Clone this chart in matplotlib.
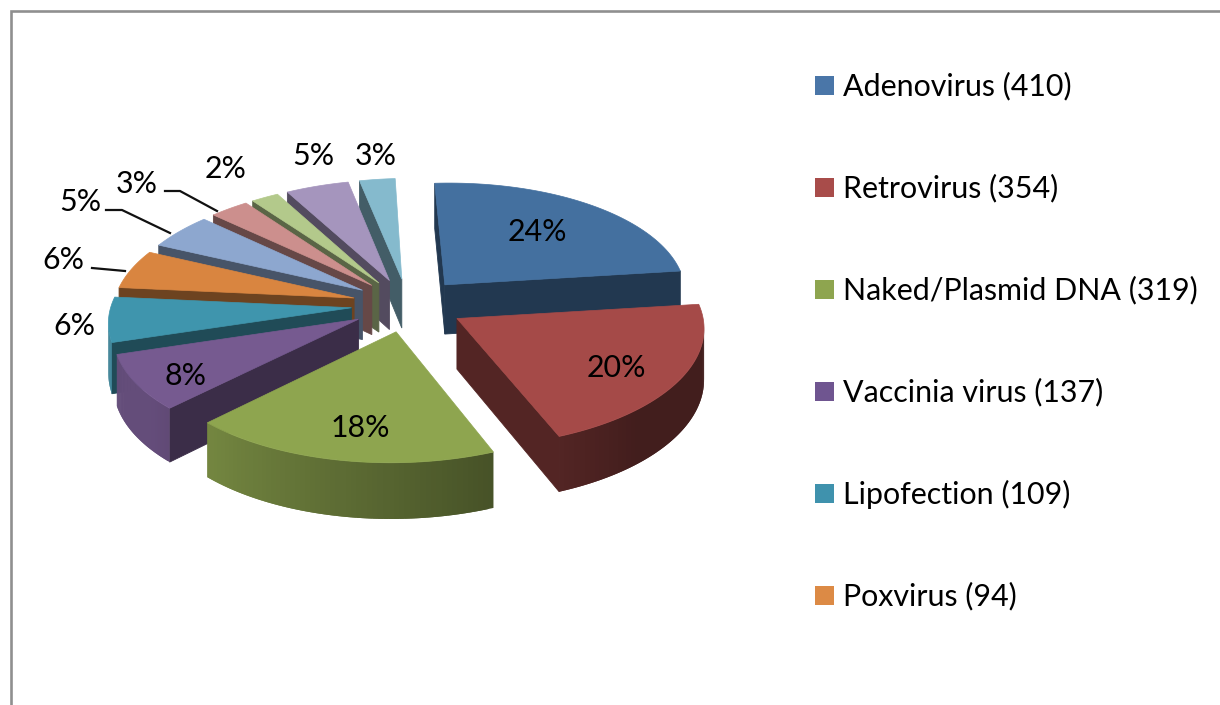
import numpy as np
import matplotlib
matplotlib.use('Agg')
import matplotlib.pyplot as plt
from matplotlib.patches import Polygon, Rectangle

plt.rcParams['font.family'] = ['Lato', 'DejaVu Sans']

# slices, clockwise from twelve o'clock
values = [410, 354, 319, 137, 109, 94, 85, 50, 35, 80, 45]
pct_labels = ['24%', '20%', '18%', '8%', '6%', '6%', '5%', '3%', '2%', '5%', '3%']
top_colors = ['#44709f', '#a54a48', '#8ea54f', '#765a90', '#3f95ad', '#d98540',
              '#8da7cf', '#cc8f8d', '#b3c98b', '#a595bd', '#85bacd']
legend_names = ['Adenovirus (410)', 'Retrovirus (354)', 'Naked/Plasmid DNA (319)',
                'Vaccinia virus (137)', 'Lipofection (109)', 'Poxvirus (94)']
legend_colors = ['#4a76a8', '#a84c4a', '#8ea54f', '#6f5590', '#3f92ad', '#dc8a45']

# where the labels sit (pixels)
label_x = [537, 616, 360, 186, 74, 63, 80, 137, 226, 313, 376]
label_y = [232, 368, 428, 376, 326, 260, 202, 184, 169, 156, 156]

# leader lines for the small slices
leaders = [([92, 125], [268, 271]),
           ([106, 122, 170], [210, 210, 233]),
           ([165, 180, 217], [191, 191, 211])]

# perspective set-up for the fake 3d pie
cx, cy = 408, 305
rx, ry = 242, 114
persp = 0.09
lean = -7
tilt = 6
explode = 0.234
depth = 50
draw_order = [10, 9, 8, 7, 6, 5, 4, 0, 3, 1, 2]


def project(x, y):
    s = 1 / (1 + persp * y)
    return cx + rx * x * s + lean * y, cy - ry * y * s - tilt * x, depth * s


def shade(color, f):
    rgb = np.array(matplotlib.colors.to_rgb(color))
    return tuple(rgb * f)


def wall(ax, p, q, color, lw=0.6):
    pts = [(p[0], p[1]), (q[0], q[1]), (q[0], q[1] + q[2]), (p[0], p[1] + p[2])]
    ax.add_patch(Polygon(pts, closed=True, facecolor=color,
                         edgecolor=color if lw else 'none', lw=lw))


def draw_slice(ax, start, end, color):
    mid = np.radians((start + end) / 2)
    ox, oy = explode * np.sin(mid), explode * np.cos(mid)
    thetas = np.radians(np.linspace(start, end, 60))
    apex = project(ox, oy)
    rim = [project(ox + np.sin(t), oy + np.cos(t)) for t in thetas]
    cut = shade(color, 0.5)

    # cut faces, only the ones turned to the viewer
    if rim[0][0] < apex[0]:
        wall(ax, apex, rim[0], cut)
    if apex[0] < rim[-1][0]:
        wall(ax, rim[-1], apex, cut)

    # outer wall, darker to the right. segments overlap so no seams show
    for i in range(len(rim) - 1):
        if rim[i + 1][0] < rim[i][0]:
            deg = np.degrees(thetas[i])
            t = np.clip(0.5 - (deg - 160) * 0.32 / 67, 0.15, 0.6)
            wall(ax, rim[i], rim[min(i + 2, len(rim) - 1)], shade(color, 1 - t), lw=0)

    top = [(apex[0], apex[1])] + [(p[0], p[1]) for p in rim]
    ax.add_patch(Polygon(top, closed=True, facecolor=color, edgecolor=color, lw=0.5))


fig = plt.figure(figsize=(12.2, 7.05), dpi=100)
ax = fig.add_axes([0, 0, 1, 1])
ax.set_xlim(0, 1220)
ax.set_ylim(705, 0)
ax.axis('off')

# chart frame, cropped on the right and bottom
ax.plot([11, 11, 1220], [705, 11, 11], color='#8f8f8f', lw=1.9, solid_joinstyle='miter')

edges = np.concatenate([[0], np.cumsum(values)]) / sum(values) * 360
for i in draw_order:
    draw_slice(ax, edges[i], edges[i + 1], top_colors[i])

for lx, ly in leaders:
    ax.plot(lx, ly, color='#111111', lw=1.6)

for x, y, s in zip(label_x, label_y, pct_labels):
    ax.text(x, y, s, fontsize=21.9, color='black', ha='center', va='center')

# legend, only the first six entries fit
for i, (name, col) in enumerate(zip(legend_names, legend_colors)):
    y = 85 + i * 102
    ax.add_patch(Rectangle((815, y - 9.5), 19, 19, facecolor=col, edgecolor='none'))
    ax.text(843, y + 1, name, fontsize=21.9, color='black', ha='left', va='center')

fig.savefig('out.png', dpi=100)
